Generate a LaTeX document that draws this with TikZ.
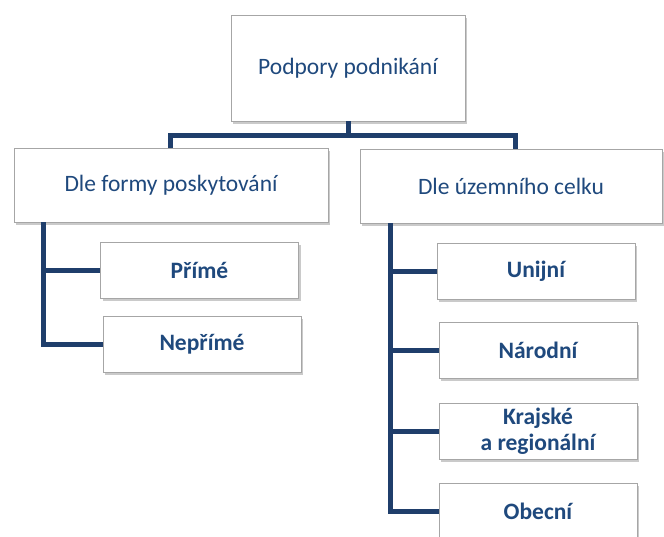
\documentclass[tikz,border=0pt]{standalone}
\usepackage{fontspec}
\setmainfont{Carlito}
\usepackage{tikz}
\usetikzlibrary{shadows,calc}
\definecolor{navy}{RGB}{31,62,107}
\definecolor{textblue}{RGB}{31,73,125}
\definecolor{edgegrey}{RGB}{166,166,166}
\tikzset{
         box/.style=
          {
           draw=edgegrey,
           fill=white,
           line width=0.8pt,
           text=textblue,
           align=center,
           inner sep=0pt,
           drop shadow={shadow xshift=2pt,shadow yshift=-2.5pt,opacity=0.35,fill=black!60}
          },
         head/.style={box,font=\fontsize{23.5}{27}\selectfont},
         leaf/.style={box,font=\fontsize{23.5}{26}\selectfont\bfseries,minimum width=198pt,minimum height=56pt},
         conn/.style={draw=navy,line width=5pt}
        }

\begin{document}
\begin{tikzpicture}[x=1pt,y=-1pt]
\useasboundingbox (0,0) rectangle (664,536);

\node[head,minimum width=234pt,minimum height=106pt] (root) at (348,68) {Podpory podnikání}; %top
\node[head,minimum width=314pt,minimum height=74pt] (formy) at (171,185) {Dle formy poskytování}; %left group
\node[head,minimum width=302pt,minimum height=74pt] (celek) at (511,186) {Dle územního celku}; %right group

\node[leaf] (prime) at (199.5,270.5) {Přímé};
\node[leaf] (neprime) at (202,344.5) {Nepřímé};

\node[leaf] (unijni) at (536,271) {Unijní};
\node[leaf] (narodni) at (538,350.5) {Národní};
\node[leaf] (krajske) at (538,431) {Krajské\\a regionální};
\node[leaf] (obecni) at (538,511) {Obecní};

\coordinate (bar) at (348,135); %horizontal bar
\coordinate (lspine) at ($(formy.south west)+(30,0)$); %left spine
\coordinate (rspine) at ($(celek.south west)+(31,0)$); %right spine

\draw[conn] (root.south) -- (bar);
\draw[conn] ($(formy.north)+(-1,0)$) |- (bar) -| ($(celek.north)+(4,0)$);

\draw[conn] (lspine) |- (prime.west);
\draw[conn] (lspine) |- (neprime.west);

\draw[conn] (rspine) |- (unijni.west);
\draw[conn] (rspine) |- (narodni.west);
\draw[conn] (rspine) |- (krajske.west);
\draw[conn] (rspine) |- (obecni.west);
\end{tikzpicture}
\end{document}
